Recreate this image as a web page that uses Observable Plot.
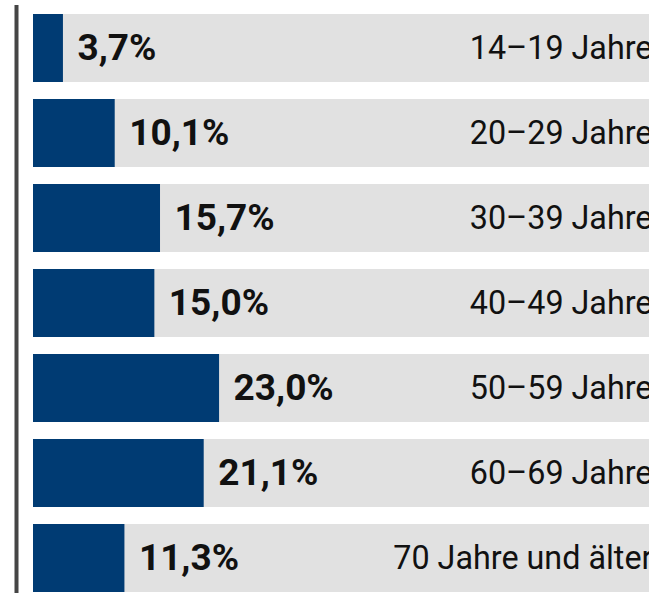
<!DOCTYPE html>
<html>
<head>
<meta charset="utf-8">
<script src="https://cdn.jsdelivr.net/npm/d3@7"></script>
<script src="https://cdn.jsdelivr.net/npm/@observablehq/plot@0.6"></script>
<style>
  html, body { margin: 0; padding: 0; background: #fff; overflow: hidden; }
  #chart svg { display: block; overflow: hidden; }
</style>
</head>
<body>
<div id="chart"></div>
<script>
const categories = ["14–19 Jahre", "20–29 Jahre", "30–39 Jahre", "40–49 Jahre", "50–59 Jahre", "60–69 Jahre", "70 Jahre und älter"];
const values = [3.7, 10.1, 15.7, 15.0, 23.0, 21.1, 11.3];
const valueLabels = ["3,7%", "10,1%", "15,7%", "15,0%", "23,0%", "21,1%", "11,3%"];
const total = 100;

const rows = categories.map((c, i) => ({category: c, value: values[i], label: valueLabels[i], total}));

const chart = Plot.plot({
  width: 649,
  height: 593,
  marginTop: 5,
  marginBottom: 0,
  marginLeft: 0,
  marginRight: 0,
  style: {fontFamily: "Roboto, sans-serif", background: "#fff"},
  x: {domain: [0, 100], range: [33, 842], axis: null},
  y: {domain: categories, range: [13, 593], paddingInner: 0.2, paddingOuter: 0, axis: null},
  marks: [
    Plot.barX(rows, {y: "category", x: "total", fill: "#e1e1e1"}),
    Plot.barX(rows, {y: "category", x: "value", fill: "#003b73"}),
    Plot.text(rows, {y: "category", x: "value", text: "label", textAnchor: "start", dx: 14, fontSize: 37, fontWeight: "bold", fill: "#111"}),
    Plot.text(rows, {y: "category", text: "category", frameAnchor: "right", textAnchor: "end", dx: 3, fontSize: 32.3, fill: "#111"}),
    Plot.ruleX([0], {dx: -17, stroke: "#454545", strokeWidth: 4})
  ]
});
document.getElementById("chart").appendChild(chart);
</script>
</body>
</html>
